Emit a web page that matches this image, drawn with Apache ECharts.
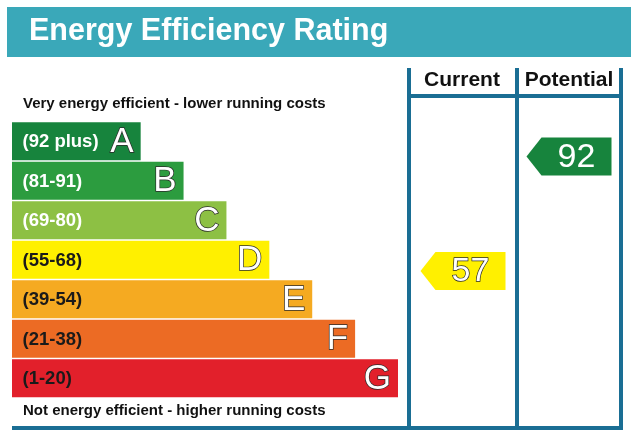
<!DOCTYPE html>
<html>
<head>
<meta charset="utf-8">
<script src="https://cdn.jsdelivr.net/npm/echarts@6/dist/echarts.min.js"></script>
<style>
html,body{margin:0;padding:0;background:#fff;}
#chart{width:631px;height:437px;}
</style>
</head>
<body>
<div id="chart"></div>
<script>
// ---- data ----
const bands = ['A', 'B', 'C', 'D', 'E', 'F', 'G'];
const ranges = ['(92 plus)', '(81-91)', '(69-80)', '(55-68)', '(39-54)', '(21-38)', '(1-20)'];
const bandLow = [92, 81, 69, 55, 39, 21, 1];
const bandHigh = [100, 91, 80, 68, 54, 38, 20];
const barLength = [3, 4, 5, 6, 7, 8, 9];
const bandColors = ['#17843d', '#2c9c3f', '#8dc044', '#fff000', '#f5aa21', '#ec6b24', '#e2202b'];
const rangeTextColors = ['#ffffff', '#ffffff', '#ffffff', '#1a1a1a', '#1a1a1a', '#1a1a1a', '#1a1a1a'];
const columns = ['Current', 'Potential'];
const ratings = [57, 92];
const titleText = 'Energy Efficiency Rating';
const topNote = 'Very energy efficient - lower running costs';
const bottomNote = 'Not energy efficient - higher running costs';

const LINE = '#1a6e94';
const TEAL = '#3aa8b9';
const FONT = '"Liberation Sans", Arial, sans-serif';

function bandOf(v) {
  for (let b = 0; b < bands.length; b++) if (v >= bandLow[b]) return b;
  return bands.length - 1;
}
function posOf(v) {
  const b = bandOf(v);
  return b + (bandHigh[b] - v) / (bandHigh[b] - bandLow[b] + 1);
}

const barData = barLength.map((v, i) => [v, i]);
const arrowData = ratings.map((v, c) => [c, posOf(v), v, bandOf(v)]);

const chart = echarts.init(document.getElementById('chart'), null, {renderer: 'canvas'});

const option = {
  animation: false,
  backgroundColor: '#ffffff',
  grid: [
    {left: 12, top: 121.5, width: 386, height: 276.5},
    {left: 409, top: 121.5, width: 212, height: 276.5}
  ],
  xAxis: [
    {type: 'value', gridIndex: 0, min: 0, max: 9, show: false},
    {type: 'category', gridIndex: 1, data: columns, show: false}
  ],
  yAxis: [
    {type: 'category', gridIndex: 0, data: bands, inverse: true, show: false},
    {type: 'value', gridIndex: 1, min: 0, max: 7, inverse: true, show: false}
  ],
  series: [
    {
      type: 'custom',
      xAxisIndex: 0, yAxisIndex: 0,
      data: barData,
      renderItem: function (params, api) {
        const i = api.value(1);
        const start = api.coord([0, i]);
        const end = api.coord([api.value(0), i]);
        const h = api.size([0, 1])[1] - 1.6;
        const top = start[1] - h / 2;
        return {
          type: 'group',
          children: [
            {type: 'rect', shape: {x: start[0], y: top, width: end[0] - start[0], height: h},
             style: {fill: bandColors[i]}},
            {type: 'text', x: start[0] + 10.5, y: start[1] + 1,
             style: {text: ranges[i], fill: rangeTextColors[i], font: 'bold 18.5px ' + FONT,
                     verticalAlign: 'middle', align: 'left'}},
            {type: 'text', x: end[0] - 7, y: start[1] + 1,
             style: {text: bands[i], fill: '#ffffff', stroke: '#2a2a2a', lineWidth: 1.4,
                     font: '35px ' + FONT, verticalAlign: 'middle', align: 'right'}}
          ]
        };
      }
    },
    {
      type: 'custom',
      xAxisIndex: 1, yAxisIndex: 1,
      data: arrowData,
      renderItem: function (params, api) {
        const p = api.coord([api.value(0), api.value(1)]);
        const b = api.value(3);
        const cx = p[0] + 1.5, cy = p[1];
        const hh = 19;
        const tip = cx - 43, body = cx - 28, right = cx + 42;
        const dark = b >= 3;
        return {
          type: 'group',
          children: [
            {type: 'polygon', shape: {points: [[tip, cy], [body, cy - hh], [right, cy - hh], [right, cy + hh], [body, cy + hh]]},
             style: {fill: bandColors[b]}},
            {type: 'text', x: (body + right) / 2, y: cy + 1,
             style: {text: String(api.value(2)), fill: '#ffffff',
                     stroke: dark ? '#2a2a2a' : null, lineWidth: dark ? 1.4 : 0,
                     font: '34px ' + FONT, align: 'center', verticalAlign: 'middle'}}
          ]
        };
      }
    }
  ],
  graphic: [
    {type: 'rect', shape: {x: 7, y: 7, width: 624, height: 50}, style: {fill: TEAL}},
    {type: 'text', x: 29, y: 32, style: {text: titleText, fill: '#ffffff', font: 'bold 30.5px ' + FONT, verticalAlign: 'middle'}},
    {type: 'text', x: 23, y: 104, style: {text: topNote, fill: '#111', font: 'bold 15px ' + FONT, verticalAlign: 'middle'}},
    {type: 'text', x: 23, y: 411, style: {text: bottomNote, fill: '#111', font: 'bold 15px ' + FONT, verticalAlign: 'middle'}},
    {type: 'text', x: 462, y: 80, style: {text: columns[0], fill: '#111', font: 'bold 21px ' + FONT, align: 'center', verticalAlign: 'middle'}},
    {type: 'text', x: 569, y: 80, style: {text: columns[1], fill: '#111', font: 'bold 21px ' + FONT, align: 'center', verticalAlign: 'middle'}},
    {type: 'line', shape: {x1: 409, y1: 68, x2: 409, y2: 430}, style: {stroke: LINE, lineWidth: 4}},
    {type: 'line', shape: {x1: 517, y1: 68, x2: 517, y2: 430}, style: {stroke: LINE, lineWidth: 4}},
    {type: 'line', shape: {x1: 621, y1: 68, x2: 621, y2: 430}, style: {stroke: LINE, lineWidth: 4}},
    {type: 'line', shape: {x1: 409, y1: 96, x2: 621, y2: 96}, style: {stroke: LINE, lineWidth: 4}},
    {type: 'line', shape: {x1: 12, y1: 428, x2: 623, y2: 428}, style: {stroke: LINE, lineWidth: 4}}
  ]
};
chart.setOption(option);
</script>
</body>
</html>
